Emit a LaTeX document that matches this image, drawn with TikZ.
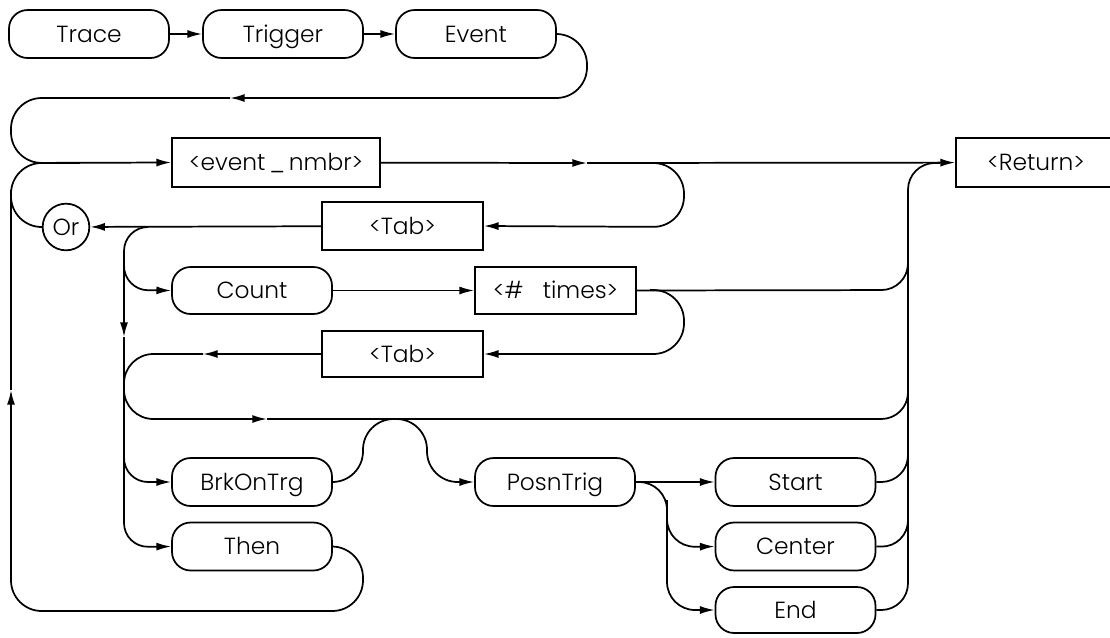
\documentclass[tikz,border=0pt]{standalone}
\usepackage{fontspec}
\setmainfont{Poppins}[UprightFont=* Light]
\usetikzlibrary{arrows.meta}
\begin{document}
\begin{tikzpicture}[x=0.75pt,y=-0.75pt,line width=1.3pt,
  font=\fontsize{17.5}{20}\selectfont,
  every node/.style={text height=12pt, text depth=0pt},
  rbox/.style={draw, rounded corners=14pt, minimum width=120pt, minimum height=36pt, inner sep=0pt},
  sbox/.style={draw, rectangle, minimum height=36pt, inner sep=0pt},
  tip/.style={-{Latex[length=11pt,width=6pt]}},
  rcA/.style={rounded corners=23pt},
  rcB/.style={rounded corners=18pt},
  rcC/.style={rounded corners=20pt},
  rcD/.style={rounded corners=22pt}]
\useasboundingbox (0,0) rectangle (1110,637);
\clip (0,0) rectangle (1110,637);
% nodes
\node[rbox] (trace) at (89,34) {Trace};
\node[rbox] (trigger) at (283,34) {Trigger};
\node[rbox] (event) at (476,34) {Event};
\node[sbox, minimum width=156pt, minimum height=36.75pt] (evn) at (276,162.5) {<event\,\_\,nmbr>};
\node[sbox, minimum width=120pt, minimum height=36.75pt] (ret) at (1036,162.5) {<Return>};
\node[sbox, minimum width=120.75pt] (tab1) at (402.5,226) {<Tab>};
\node[draw, circle, minimum size=35pt, inner sep=0pt, text height=12pt, text depth=0pt] (or) at (66,227) {Or};
\node[rbox, minimum height=35.25pt] (count) at (252,290.5) {Count};
\node[sbox, minimum width=120.75pt, minimum height=35.25pt] (times) at (555.5,290.5) {<\#\ \ \ times>};
\node[sbox, minimum width=120.75pt, minimum height=34.5pt] (tab2) at (402.5,354) {<Tab>};
\node[rbox] (brk) at (252,482) {BrkOnTrg};
\node[rbox] (then) at (252,546.5) {Then};
\node[rbox] (posn) at (555,482) {PosnTrig};
\node[rbox] (start) at (795.5,482) {Start};
\node[rbox] (center) at (795.5,546.5) {Center};
\node[rbox, minimum height=34.5pt] (end) at (795.5,610) {End};
% coordinates
\coordinate (a1) at (230,98);
\coordinate (a2) at (587,163);
\coordinate (a3) at (124,337);
\coordinate (a4) at (203,354);
\coordinate (a5) at (267,419);
\coordinate (a6) at (940,163);
\coordinate (a7) at (11,390);
\coordinate (j1) at (650,163);
\coordinate (j2) at (148,227);
\coordinate (j3) at (124,260);
\coordinate (j4) at (124,450);
\coordinate (j5) at (650,290);
\coordinate (j6) at (667,500);
\coordinate (j7) at (80,163);
\coordinate (j8) at (11,190);
% top row
\draw[tip] (trace) -- (trigger);
\draw[tip] (trigger) -- (event);
\draw[tip, rcA] (event.east) -- (587,34) -- (587,98) -- (a1);
\draw[tip, rcA] (a1) -- (11,98) -- (11,163) -- (evn.west);
\draw[tip] (evn) -- (a2);
\draw[tip] (a2) -- (ret);
\draw[tip, rcA] (j1) -- (684,163) -- (684,227) -- (tab1.east);
\draw[tip] (tab1) -- (or);
\draw[rcA] (or.west) -- (11,227) -- (11,163) -- (j7);
% left column
\draw[tip, rcB] (j2) -- (124,227) -- (a3);
\draw[tip, rcB] (a3) -- (124,547) -- (then.west);
\draw[tip, rcB] (j3) -- (124,290) -- (count.west);
\draw[tip, rcB] (j4) -- (124,482) -- (brk.west);
\draw[tip] (count) -- (times);
\draw[rcC] (times.east) -- (908,290) -- (908,250);
\draw[tip, rcA] (j5) -- (684,290) -- (684,354) -- (tab2.east);
\draw[tip] (tab2.west) -- (a4);
\draw[tip, rcD] (a4) -- (124,354) -- (124,419) -- (a5);
\draw[rcC] (a5) -- (908,419) -- (908,380);
% hump and posn
\draw[tip, rcA] (brk.east) -- (363,482) -- (363,419) -- (427,419) -- (427,482) -- (posn.west);
\draw[tip] (posn) -- (start);
\draw[tip, rounded corners=21pt] (posn.east) -- (667,482) -- (667,610) -- (end.west);
\draw[tip, rounded corners=21pt] (j6) -- (667,547) -- (center.west);
% right column
\draw[rcC] (end.east) -- (908,610) -- (908,163) -- (a6);
\draw[rcC] (start.east) -- (908,482) -- (908,440);
\draw[rcC] (center.east) -- (908,547) -- (908,500);
% then loop
\draw[tip, rcA] (then.east) -- (363,547) -- (363,611) -- (11,611) -- (a7);
\draw (a7) -- (j8);
\end{tikzpicture}
\end{document}
